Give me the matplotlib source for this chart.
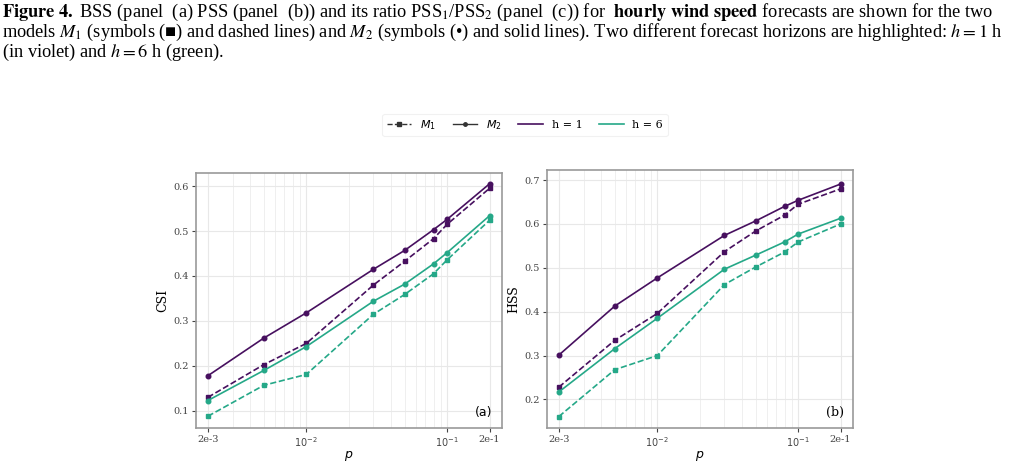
import numpy as np
import matplotlib
matplotlib.use("Agg")
import matplotlib.pyplot as plt
from matplotlib.lines import Line2D
from matplotlib.ticker import FixedLocator, NullFormatter, LogLocator

# thresholds p
p = [2e-3, 5e-3, 1e-2, 3e-2, 5e-2, 8e-2, 1e-1, 2e-1]
xtick_vals = [2e-3, 1e-2, 1e-1, 2e-1]
xtick_labels = ["2e-3", r"$10^{-2}$", r"$10^{-1}$", "2e-1"]

# panel (a) CSI
csi_m1_h1 = [0.130, 0.203, 0.250, 0.380, 0.433, 0.483, 0.515, 0.595]
csi_m2_h1 = [0.178, 0.262, 0.318, 0.415, 0.457, 0.503, 0.526, 0.605]
csi_m1_h6 = [0.088, 0.157, 0.181, 0.315, 0.359, 0.405, 0.436, 0.524]
csi_m2_h6 = [0.123, 0.190, 0.243, 0.344, 0.382, 0.427, 0.452, 0.534]

# panel (b) HSS
hss_m1_h1 = [0.228, 0.335, 0.396, 0.537, 0.584, 0.620, 0.645, 0.680]
hss_m2_h1 = [0.301, 0.413, 0.477, 0.574, 0.607, 0.640, 0.654, 0.691]
hss_m1_h6 = [0.161, 0.268, 0.300, 0.462, 0.502, 0.536, 0.559, 0.600]
hss_m2_h6 = [0.217, 0.316, 0.385, 0.497, 0.529, 0.559, 0.577, 0.613]

violet = "#47105f"
green = "#25a888"

fig = plt.figure(figsize=(10.16, 4.65), dpi=100)

caption = [
    (r"$\mathbf{Figure\ 4.}$ BSS (panel  (a) PSS (panel  (b)) and its ratio PSS$_1$/PSS$_2$ (panel  (c)) for  "
     r"$\mathbf{hourly\ wind\ speed}$ forecasts are shown for the two"),
    r"models $M_1$ (symbols (■) and dashed lines) and $M_2$ (symbols (•) and solid lines). Two different forecast horizons are highlighted: $h = 1$ h",
    r"(in violet) and $h = 6$ h (green).",
]
for i, line in enumerate(caption):
    fig.text(0.002, 1 - (12 + 20 * i) / 465, line, family=["Liberation Serif", "DejaVu Serif"],
             math_fontfamily="stix", fontsize=13.2, va="center", ha="left")


def panel(ax, series, ylabel, tag, tagfont, ylim, yticks):
    for y, col, dashed in series:
        if dashed:
            ax.plot(p, y, color=col, ls="--", marker="s", ms=3.3, lw=1.2)
        else:
            ax.plot(p, y, color=col, ls="-", marker="o", ms=3.3, lw=1.2)
    ax.set_xscale("log")
    ax.set_xlim(1.65e-3, 2.45e-1)
    ax.set_ylim(*ylim)
    ax.set_yticks(yticks)
    ax.set_yticklabels([f"{v:.1f}" for v in yticks], family="DejaVu Serif")
    ax.xaxis.set_major_locator(FixedLocator(xtick_vals))
    ax.set_xticklabels(xtick_labels, family="DejaVu Serif")
    ax.xaxis.set_minor_locator(LogLocator(base=10, subs=np.arange(2, 10)))
    ax.xaxis.set_minor_formatter(NullFormatter())
    ax.tick_params(axis="both", which="major", labelsize=7, colors="#444444", length=3, pad=2)
    ax.tick_params(axis="x", which="minor", length=0)
    ax.grid(True, which="major", color="#e8e8e8", lw=0.8)
    ax.grid(True, which="minor", axis="x", color="#ececec", lw=0.6)
    ax.set_axisbelow(True)
    for s in ax.spines.values():
        s.set_color("#999999")
        s.set_linewidth(1.2)
    ax.set_xlabel(r"$p$", fontsize=9, family="DejaVu Sans", labelpad=0)
    ax.set_ylabel(ylabel, family="DejaVu Serif", fontsize=9, labelpad=3)
    ax.text(0.97, 0.06, tag, transform=ax.transAxes, ha="right", va="center",
            fontsize=9, family=tagfont)


ax1 = fig.add_axes([196 / 1016, 1 - 428 / 465, 306 / 1016, 255 / 465])
panel(ax1,
      [(csi_m2_h1, violet, False), (csi_m1_h1, violet, True),
       (csi_m2_h6, green, False), (csi_m1_h6, green, True)],
      "CSI", "(a)", "DejaVu Sans", (0.062, 0.629), [0.1, 0.2, 0.3, 0.4, 0.5, 0.6])

ax2 = fig.add_axes([547 / 1016, 1 - 428 / 465, 306 / 1016, 258 / 465])
panel(ax2,
      [(hss_m2_h1, violet, False), (hss_m1_h1, violet, True),
       (hss_m2_h6, green, False), (hss_m1_h6, green, True)],
      "HSS", "(b)", "DejaVu Serif", (0.135, 0.723), [0.2, 0.3, 0.4, 0.5, 0.6, 0.7])

handles = [
    Line2D([], [], color="#333333", ls="--", marker="s", ms=2.5, lw=1),
    Line2D([], [], color="#333333", ls="-", marker="o", ms=2.5, lw=1),
    Line2D([], [], color=violet, lw=1.2),
    Line2D([], [], color=green, lw=1.2),
]
labels = [r"$M_1$", r"$M_2$", "h = 1", "h = 6"]
leg = fig.legend(handles, labels, loc="center", bbox_to_anchor=(525 / 1016, 1 - 125 / 465),
                 ncol=4, frameon=True, handlelength=2.2, columnspacing=1.5,
                 prop={"family": "DejaVu Serif", "size": 8})
leg.get_frame().set_edgecolor("#eeeeee")
leg.get_frame().set_linewidth(0.8)

fig.savefig("out.png", dpi=100)
